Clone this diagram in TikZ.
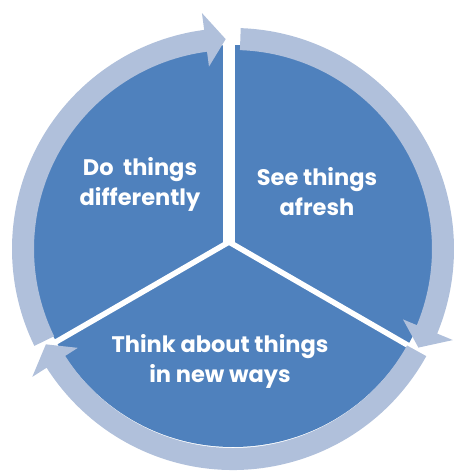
\documentclass[tikz,border=0pt]{standalone}
\usepackage{fontspec}
\setmainfont{Poppins}
\usetikzlibrary{calc}
\definecolor{pieblue}{RGB}{79,129,189}
\definecolor{ringblue}{RGB}{176,192,219}
\begin{document}
\begin{tikzpicture}[
  x=1pt, y=1pt,
  seg/.style={fill=pieblue},
  gap/.style={draw=white},
  arr/.style={fill=ringblue},
  lbl/.style={text=white, align=center, font=\fontsize{22.5}{30}\selectfont\bfseries}
]
\useasboundingbox (0,0) rectangle (455,472);
\coordinate (P) at (233,226);
\coordinate (R) at (233,223);
\coordinate (J) at (229,230);

% pie and the three cuts
\fill[seg] (P) circle[radius=201pt];
\draw[gap, line width=12pt] (J) -- ++(90:240);
\draw[gap, line width=5.5pt] (J) -- ++(210:240);
\draw[gap, line width=5.5pt] (J) -- ++(-30:240);

% ring of arrows
\foreach \s/\t in {88/-28, -29/-153, 206/92} {
  \pgfmathsetmacro\b{\t+5.5}
  \fill[arr] ($(R)+(\s:221)$) arc[start angle=\s, end angle=\b, radius=221pt]
    -- ($(R)+(\b:238)$) -- ($(R)+(\t:210)$) -- ($(R)+(\b:184)$)
    -- ($(R)+(\b:199)$) arc[start angle=\b, end angle=\s, radius=199pt] -- cycle;
}

\node[lbl] (do) at (140,288) {Do~~things\\differently};
\node[lbl] (see) at (317,280) {See things\\afresh};
\node[lbl] (think) at (220,111) {Think about things\\in new ways};
\end{tikzpicture}
\end{document}
